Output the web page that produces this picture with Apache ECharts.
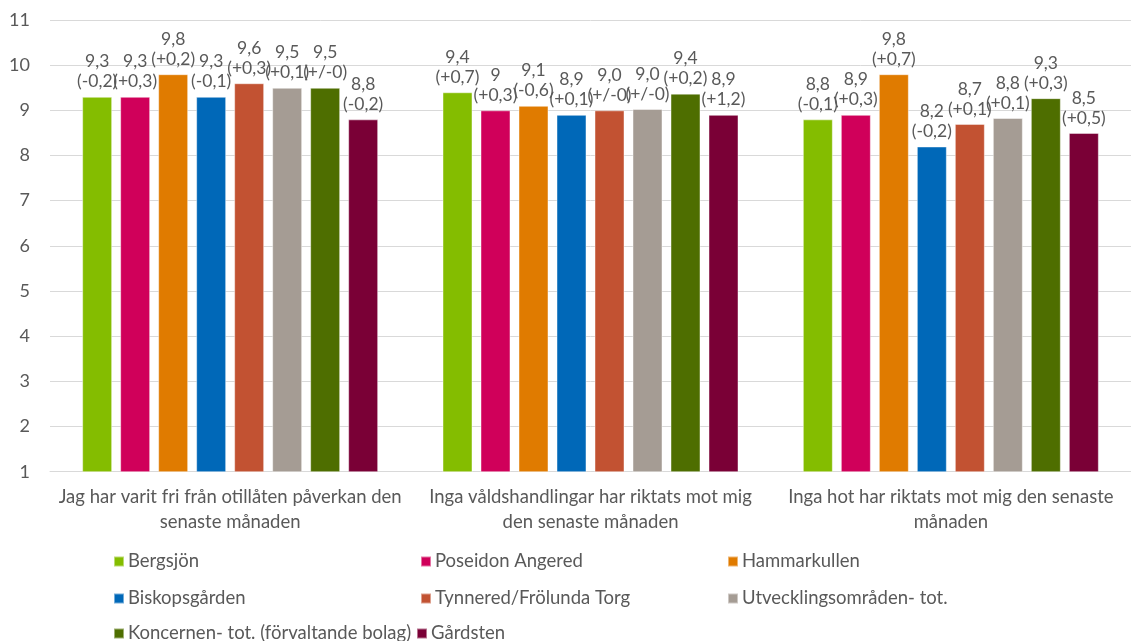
<!DOCTYPE html>
<html><head><meta charset="utf-8">
<script src="https://cdn.jsdelivr.net/npm/echarts@6/dist/echarts.min.js"></script>
<style>html,body{margin:0;padding:0;background:#fff}#c{width:1131px;height:641px}</style>
</head><body><div id="c"></div>
<script>
const categories = [
  'Jag har varit fri från otillåten påverkan den\nsenaste månaden',
  'Inga våldshandlingar har riktats mot mig\nden senaste månaden',
  'Inga hot har riktats mot mig den senaste\nmånaden'
];
const yTicks = [1,2,3,4,5,6,7,8,9,10,11];
const seriesNames = ['Bergsjön','Poseidon Angered','Hammarkullen','Biskopsgården','Tynnered/Frölunda Torg','Utvecklingsområden- tot.','Koncernen- tot. (förvaltande bolag)','Gårdsten'];
const colors = ['#84BD00','#D0005A','#E07B00','#0068B8','#C25232','#A59C94','#4E6E00','#7A0036'];

const bergsjon      = [9.3, 9.4, 8.8];
const poseidon      = [9.3, 9.0, 8.9];
const hammarkullen  = [9.8, 9.1, 9.8];
const biskopsgarden = [9.3, 8.9, 8.2];
const tynnered      = [9.6, 9.0, 8.7];
const utveckling    = [9.5, 9.03, 8.83];
const koncernen     = [9.5, 9.37, 9.27];
const gardsten      = [8.8, 8.9, 8.5];

const bergsjonLbl      = ['9,3\n(-0,2)', '9,4\n(+0,7)', '8,8\n(-0,1)'];
const poseidonLbl      = ['9,3\n(+0,3)', '9\n(+0,3)',   '8,9\n(+0,3)'];
const hammarkullenLbl  = ['9,8\n(+0,2)', '9,1\n(-0,6)', '9,8\n(+0,7)'];
const biskopsgardenLbl = ['9,3\n(-0,1)', '8,9\n(+0,1)', '8,2\n(-0,2)'];
const tynneredLbl      = ['9,6\n(+0,3)', '9,0\n(+/-0)', '8,7\n(+0,1)'];
const utvecklingLbl    = ['9,5\n(+0,1)', '9,0\n(+/-0)', '8,8\n(+0,1)'];
const koncernenLbl     = ['9,5\n(+/-0)', '9,4\n(+0,2)', '9,3\n(+0,3)'];
const gardstenLbl      = ['8,8\n(-0,2)', '8,9\n(+1,2)', '8,5\n(+0,5)'];

const allValues = [bergsjon, poseidon, hammarkullen, biskopsgarden, tynnered, utveckling, koncernen, gardsten];
const allLabels = [bergsjonLbl, poseidonLbl, hammarkullenLbl, biskopsgardenLbl, tynneredLbl, utvecklingLbl, koncernenLbl, gardstenLbl];

const FONT = 'Lato';
const TXT = '#595959';

const legendPos = [
  [113, 552], [420, 552], [727, 552],
  [113, 589], [420, 589], [727, 589],
  [113, 624], [416, 624]
];

const chart = echarts.init(document.getElementById('c'), null, {renderer: 'canvas'});
chart.setOption({
  animation: false,
  textStyle: {fontFamily: FONT},
  grid: {left: 50, top: 20, width: 1092, height: 451.7, containLabel: false},
  xAxis: {
    type: 'category', data: categories,
    axisTick: {show: false},
    axisLine: {lineStyle: {color: '#d9d9d9', width: 1}},
    axisLabel: {color: TXT, fontSize: 18.5, fontFamily: FONT, lineHeight: 25, margin: 13, interval: 0}
  },
  yAxis: {
    type: 'value', min: yTicks[0], max: yTicks[yTicks.length - 1], interval: 1,
    axisLine: {show: false}, axisTick: {show: false},
    splitLine: {lineStyle: {color: '#d9d9d9', width: 1}},
    axisLabel: {color: TXT, fontSize: 18, fontFamily: FONT, margin: 20}
  },
  legend: seriesNames.map((n, i) => ({
    data: [n], left: legendPos[i][0], top: legendPos[i][1],
    itemWidth: 10, itemHeight: 10, itemGap: 4, icon: 'rect', padding: 0,
    textStyle: {color: TXT, fontSize: 18.5, fontFamily: FONT, padding: [0,0,0,-1]}
  })),
  series: seriesNames.map((n, i) => ({
    name: n, type: 'bar', data: allValues[i],
    barWidth: 30, barGap: '26.67%',
    itemStyle: {color: colors[i], borderColor: 'rgba(255,255,255,0.45)', borderWidth: 1},
    label: {
      show: true, position: 'top', distance: 5,
      formatter: p => allLabels[i][p.dataIndex],
      color: TXT, fontSize: 17.5, fontFamily: FONT, lineHeight: 20, align: 'center'
    }
  }))
});
</script></body></html>
